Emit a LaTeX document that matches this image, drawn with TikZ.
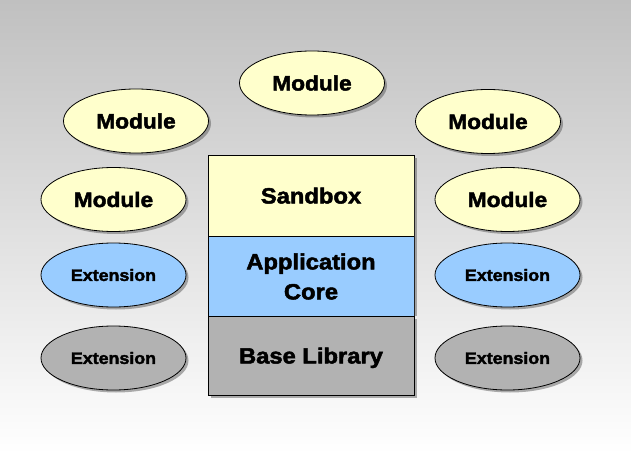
\documentclass[tikz,border=0pt]{standalone}
\usepackage{fontspec}
\newfontfamily\dfont[UprightFont={* Bold},FakeStretch=1.08,FakeBold=2.2]{Liberation Sans}
\usetikzlibrary{shapes.geometric,shadows}
\definecolor{modfill}{HTML}{FFFFCC}
\definecolor{extblue}{HTML}{99CCFF}
\definecolor{extgray}{HTML}{B2B2B2}
\definecolor{bgtop}{HTML}{C0C0C0}
\tikzset{
  shd/.style={drop shadow={shadow xshift=2.5pt,shadow yshift=-2.5pt,opacity=.45,fill=black!70}},
  oval/.style={ellipse,draw=black,line width=0.8pt,minimum width=145pt,minimum height=64pt,inner sep=0pt,shd,font=\dfont\fontsize{21}{24}\selectfont},
  module/.style={oval,fill=modfill},
  extb/.style={oval,fill=extblue,font=\dfont\fontsize{16.5}{20}\selectfont},
  extg/.style={oval,fill=extgray,font=\dfont\fontsize{16.5}{20}\selectfont},
  layer/.style={rectangle,draw=black,line width=0.8pt,minimum width=206pt,inner sep=0pt,align=center,font=\dfont\fontsize{22}{30}\selectfont},
}
\begin{document}
\begin{tikzpicture}[x=1pt,y=-1pt]
\useasboundingbox (0,0) rectangle (631,454);
\shade[top color=bgtop,bottom color=white] (0,0) rectangle (631,454);
% central stack
\node[layer,fill=extgray,minimum height=79pt,text depth=0pt,shd] (base) at (311,355.5) {Base Library};
\node[layer,fill=extblue,minimum height=80pt] (core) at (311,276.5) {Application\\Core};
\node[layer,fill=modfill,minimum height=81pt,text depth=0pt] (sandbox) at (311,195.5) {Sandbox};
\fill[black!70,opacity=.45] (414,158) rectangle (416.5,316);
% modules
\node[module] (mtop) at (312,83) {Module};
\node[module] (ml1) at (136,121) {Module};
\node[module] (mr1) at (488,121.5) {Module};
\node[module] (ml2) at (113.5,199.5) {Module};
\node[module] (mr2) at (507.5,199.5) {Module};
% extensions
\node[extb] (el1) at (113.5,275) {Extension};
\node[extb] (er1) at (507.5,275) {Extension};
\node[extg] (el2) at (113.5,358) {Extension};
\node[extg] (er2) at (507.5,358) {Extension};
\end{tikzpicture}
\end{document}
